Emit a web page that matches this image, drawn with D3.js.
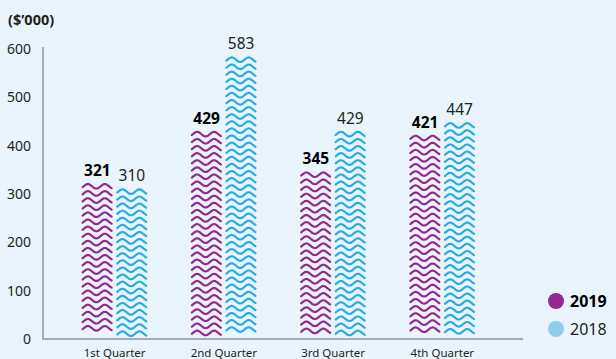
<!DOCTYPE html>
<html>
<head>
<meta charset="utf-8">
<script src="https://cdn.jsdelivr.net/npm/d3@7"></script>
<style>
  html, body { margin: 0; padding: 0; background: #eaf4fc; }
  svg { display: block; font-family: "Noto Sans", Lato, sans-serif; }
</style>
</head>
<body>
<svg id="chart" width="616" height="359"></svg>
<script>
// Quarterly figures, in thousands of dollars
const quarters = ["1st Quarter", "2nd Quarter", "3rd Quarter", "4th Quarter"];
const series = ["2019", "2018"];
const values2019 = [321, 429, 345, 421];
const values2018 = [310, 583, 429, 447];
const yTicks = [0, 100, 200, 300, 400, 500, 600];

const colors = { "2019": "#952a8e", "2018": "#2aace2" };
const legendColors = { "2019": "#952a8e", "2018": "#8ecdeb" };

const svg = d3.select("#chart");

const y = d3.scaleLinear().domain([0, 600]).range([339, 49]);
const x0 = d3.scaleBand().domain(quarters).range([60, 497]).padding(0);
const x1 = d3.scaleBand().domain(series).range([-32, 32]).paddingInner(0.15);

const rows = quarters.map((q, i) => ({ q, "2019": values2019[i], "2018": values2018[i] }));

// Axes lines
svg.append("line").attr("x1", 43).attr("x2", 43).attr("y1", 47).attr("y2", y(0) + 1)
  .attr("stroke", "#a9abae").attr("stroke-width", 2);
svg.append("line").attr("x1", 42).attr("x2", 523).attr("y1", y(0)).attr("y2", y(0))
  .attr("stroke", "#a9abae").attr("stroke-width", 2);

// Y tick labels
svg.append("g").selectAll("text").data(yTicks).join("text")
  .attr("x", 31).attr("y", d => y(d)).attr("dy", "0.35em")
  .attr("text-anchor", "end").attr("font-size", 14).attr("fill", "#231f20")
  .text(d => d);

// Unit label
svg.append("text").attr("x", 8).attr("y", 25).attr("font-size", 14.5)
  .attr("font-weight", "bold").attr("fill", "#231f20").text("($\u2019000)");

// X labels
svg.append("g").selectAll("text").data(quarters).join("text")
  .attr("x", d => x0(d) + x0.bandwidth() / 2).attr("y", 357)
  .attr("text-anchor", "middle").attr("font-size", 11.5).attr("fill", "#231f20")
  .text(d => d);

// Wavy bars: stacked sine strokes filling each bar up to its value
const spacing = 7.1, amp = 2.3, period = 17;
const wave = d3.line().curve(d3.curveBasis);

const groups = svg.append("g").selectAll("g").data(rows).join("g")
  .attr("transform", d => `translate(${x0(d.q) + x0.bandwidth() / 2},0)`);

series.forEach(s => {
  groups.each(function(d) {
    const g = d3.select(this);
    const bx = x1(s), bw = x1.bandwidth();
    const top = y(d[s]) + 2.5;
    const lines = [];
    for (let yy = top; yy <= y(0) - 4; yy += spacing) lines.push(yy);
    g.selectAll(null).data(lines).join("path")
      .attr("d", yy => {
        const pts = d3.range(0, bw + 0.01, 0.5).map(t => [bx + t, yy - amp * Math.sin(2 * Math.PI * (t - 1) / period)]);
        return wave(pts);
      })
      .attr("fill", "none").attr("stroke", colors[s]).attr("stroke-width", 2.2)
      .attr("stroke-linecap", "round");
    g.append("text")
      .attr("x", bx + bw / 2).attr("y", y(d[s]) - 8)
      .attr("text-anchor", "middle").attr("font-size", 15.5)
      .attr("font-weight", s === "2019" ? "bold" : "normal")
      .attr("fill", s === "2019" ? "#000" : "#231f20")
      .text(d[s]);
  });
});

// Legend
const legend = svg.append("g").selectAll("g").data(series).join("g")
  .attr("transform", (d, i) => `translate(556,${301 + i * 28})`);
legend.append("circle").attr("r", 8).attr("fill", d => legendColors[d]);
legend.append("text").attr("x", 14).attr("dy", "0.36em").attr("font-size", 16)
  .attr("font-weight", d => d === "2019" ? "bold" : "normal")
  .attr("fill", d => d === "2019" ? "#000" : "#231f20").text(d => d);
</script>
</body>
</html>
